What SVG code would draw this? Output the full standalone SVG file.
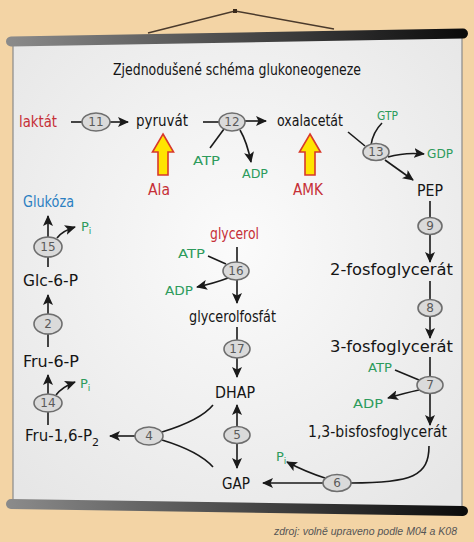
<svg xmlns="http://www.w3.org/2000/svg" width="474" height="542" viewBox="0 0 474 542">
<defs>
<radialGradient id="scr" cx="0.5" cy="0.45" r="0.7">
<stop offset="0" stop-color="#fbfbfb"/><stop offset="1" stop-color="#e6e6e6"/>
</radialGradient>
<linearGradient id="rod" x1="0" y1="0" x2="1" y2="0">
<stop offset="0" stop-color="#8a8a8a"/><stop offset="0.5" stop-color="#4a4a4a"/><stop offset="1" stop-color="#0c0c0c"/>
</linearGradient>
<marker id="ah" markerUnits="userSpaceOnUse" markerWidth="12" markerHeight="10" refX="10" refY="5" orient="auto">
<path d="M0,0 L11,5 L0,10 L2.5,5 Z" fill="#1a1a1a"/>
</marker>
<style>
.t{font-family:"DejaVu Sans","Liberation Sans",sans-serif;font-size:15px;fill:#151515}
.r{fill:#c62f37}
.g{font-family:"DejaVu Sans","Liberation Sans",sans-serif;font-size:13px;fill:#2d9b5c}
.b{fill:#2b7fc2}
.n{font-family:"DejaVu Sans","Liberation Sans",sans-serif;font-size:12px;fill:#5a5a5a;text-anchor:middle}
.e{fill:#dadada;stroke:#6e6e6e;stroke-width:1.6}
.l{fill:none;stroke:#1a1a1a;stroke-width:1.6}
.a{fill:none;stroke:#1a1a1a;stroke-width:1.6;marker-end:url(#ah)}
.y{fill:#ffe400;stroke:#d8392b;stroke-width:1.6;stroke-linejoin:miter}
</style>
</defs>
<rect width="474" height="542" fill="#f3d4a5"/>
<!-- screen -->
<polygon points="13,40 462,32 462,508 13,502" fill="url(#scr)" stroke="#8a8a8a" stroke-width="1.2"/>
<!-- hanger -->
<polyline points="148,33 235,11 334,29" fill="none" stroke="#4a3a2c" stroke-width="1.5"/>
<rect x="233" y="9" width="4" height="4" fill="#3a2a1c"/>
<!-- rods -->
<line x1="11" y1="41.5" x2="463" y2="33.5" stroke="url(#rod)" stroke-width="10" stroke-linecap="round"/>
<line x1="11" y1="504" x2="463" y2="511" stroke="url(#rod)" stroke-width="10" stroke-linecap="round"/>
<text x="113" y="75" class="t" textLength="248" lengthAdjust="spacingAndGlyphs">Zjednodušené schéma glukoneogeneze</text>

<g id="connectors">
<line class="l" x1="71" y1="122" x2="82" y2="122"/>
<line class="a" x1="110" y1="122" x2="128" y2="122"/>
<line class="l" x1="203" y1="122" x2="219" y2="122"/>
<line class="a" x1="245" y1="121" x2="266" y2="121"/>
<line class="l" x1="224" y1="129" x2="210" y2="148"/>
<path class="a" d="M240,130 Q247,142 251,162"/>
<line class="l" x1="348" y1="132" x2="365" y2="146"/>
<path class="l" d="M371,145 Q373,132 382,123"/>
<path class="a" d="M388,157 Q405,152 424,154"/>
<line class="a" x1="385" y1="160" x2="413" y2="180"/>
<line class="l" x1="430" y1="201" x2="430" y2="218"/>
<line class="a" x1="430" y1="234" x2="430" y2="262"/>
<line class="l" x1="430" y1="281" x2="430" y2="300"/>
<line class="a" x1="430" y1="316" x2="430" y2="338"/>
<line class="l" x1="430" y1="357" x2="430" y2="377"/>
<line class="a" x1="430" y1="393.5" x2="430" y2="425"/>
<line class="l" x1="395" y1="370" x2="419" y2="380"/>
<path class="a" d="M419,390 Q405,393 388,398"/>
<path class="l" d="M429,446 C429,476 412,483 351,483"/>
<line class="a" x1="323" y1="483" x2="263" y2="483"/>
<path class="a" d="M325,478 Q306,472 287,462"/>
<line class="a" x1="237" y1="426.5" x2="237" y2="405"/>
<line class="a" x1="237" y1="443.5" x2="237" y2="468"/>
<line class="a" x1="135" y1="436" x2="110" y2="436"/>
<path class="l" d="M162,432 C185,425 204,416 213,405"/>
<path class="l" d="M162,440 C185,447 204,457 213,467"/>
<line class="l" x1="48" y1="412" x2="48" y2="425"/>
<line class="a" x1="48" y1="394" x2="48" y2="375"/>
<path class="a" d="M56,395 Q62,387 75,382"/>
<line class="l" x1="48" y1="334" x2="48" y2="347"/>
<line class="a" x1="48" y1="314" x2="48" y2="295"/>
<line class="l" x1="48" y1="257" x2="48" y2="267"/>
<line class="a" x1="48" y1="237" x2="48" y2="216"/>
<path class="a" d="M57,238 Q62,231 75,227"/>
<line class="l" x1="237" y1="247" x2="237" y2="262"/>
<line class="a" x1="237" y1="280" x2="237" y2="303"/>
<line class="l" x1="208" y1="256" x2="226" y2="264"/>
<path class="a" d="M228,278 Q215,283 197,287"/>
<line class="l" x1="237" y1="327" x2="237" y2="340"/>
<line class="a" x1="237" y1="358" x2="237" y2="377"/>
</g>

<g id="n-laktat"><text x="19" y="127" class="t r" textLength="38" lengthAdjust="spacingAndGlyphs">laktát</text></g>
<g id="n-pyruvat"><text x="136" y="126" class="t" textLength="52" lengthAdjust="spacingAndGlyphs">pyruvát</text></g>
<g id="n-oxalacetat"><text x="277" y="126" class="t" textLength="66" lengthAdjust="spacingAndGlyphs">oxalacetát</text></g>
<g id="n-pep"><text x="417" y="196" class="t" textLength="26" lengthAdjust="spacingAndGlyphs">PEP</text></g>
<g id="n-2pg"><text x="330" y="275" class="t" textLength="123" lengthAdjust="spacingAndGlyphs">2-fosfoglycerát</text></g>
<g id="n-3pg"><text x="330" y="352" class="t" textLength="123" lengthAdjust="spacingAndGlyphs">3-fosfoglycerát</text></g>
<g id="n-13bpg"><text x="308" y="437" class="t" textLength="139" lengthAdjust="spacingAndGlyphs">1,3-bisfosfoglycerát</text></g>
<g id="n-gap"><text x="222" y="489" class="t" textLength="28" lengthAdjust="spacingAndGlyphs">GAP</text></g>
<g id="n-dhap"><text x="215" y="398" class="t" textLength="40" lengthAdjust="spacingAndGlyphs">DHAP</text></g>
<g id="n-glycerol"><text x="210" y="239" class="t r" textLength="49" lengthAdjust="spacingAndGlyphs">glycerol</text></g>
<g id="n-glycerolfosfat"><text x="189" y="322" class="t" textLength="87" lengthAdjust="spacingAndGlyphs">glycerolfosfát</text></g>
<g id="n-fru16p2"><text x="25" y="441" class="t"><tspan textLength="67" lengthAdjust="spacingAndGlyphs">Fru-1,6-P</tspan><tspan dy="5" font-size="11">2</tspan></text></g>
<g id="n-fru6p"><text x="23" y="367" class="t" textLength="56" lengthAdjust="spacingAndGlyphs">Fru-6-P</text></g>
<g id="n-glc6p"><text x="23" y="286" class="t" textLength="55" lengthAdjust="spacingAndGlyphs">Glc-6-P</text></g>
<g id="n-glukoza"><text x="23" y="207" class="t b" textLength="51" lengthAdjust="spacingAndGlyphs">Glukóza</text></g>

<g id="n-ala">
<polygon class="y" points="163,134 173.5,152 168,152 168,175 158,175 158,152 152.5,152"/>
<text x="148" y="195" class="t r" textLength="22" lengthAdjust="spacingAndGlyphs">Ala</text>
</g>
<g id="n-amk">
<polygon class="y" points="310,134 320.5,152 315,152 315,175 305,175 305,152 299.5,152"/>
<text x="293" y="195" class="t r" textLength="30" lengthAdjust="spacingAndGlyphs">AMK</text>
</g>

<g id="cofactors">
<text x="193" y="165" class="g" textLength="27" lengthAdjust="spacingAndGlyphs">ATP</text>
<text x="242" y="178" class="g" textLength="26" lengthAdjust="spacingAndGlyphs">ADP</text>
<text x="377" y="120" class="g" textLength="21" lengthAdjust="spacingAndGlyphs">GTP</text>
<text x="427" y="158" class="g" textLength="26" lengthAdjust="spacingAndGlyphs">GDP</text>
<text x="368" y="372" class="g" textLength="24" lengthAdjust="spacingAndGlyphs">ATP</text>
<text x="353" y="408" class="g" textLength="30" lengthAdjust="spacingAndGlyphs">ADP</text>
<text x="178" y="258" class="g" textLength="27" lengthAdjust="spacingAndGlyphs">ATP</text>
<text x="165" y="295" class="g" textLength="28" lengthAdjust="spacingAndGlyphs">ADP</text>
<text x="276" y="461" class="g">P<tspan dy="3" font-size="9">i</tspan></text>
<text x="80" y="388" class="g">P<tspan dy="3" font-size="9">i</tspan></text>
<text x="81" y="231" class="g">P<tspan dy="3" font-size="9">i</tspan></text>
</g>

<g id="e11"><ellipse class="e" cx="96" cy="122" rx="14" ry="9"/><text class="n" x="96" y="126">11</text></g>
<g id="e12"><ellipse class="e" cx="232" cy="122" rx="13" ry="9"/><text class="n" x="232" y="126">12</text></g>
<g id="e13"><ellipse class="e" cx="376" cy="152" rx="13" ry="8.5"/><text class="n" x="376" y="156">13</text></g>
<g id="e9"><ellipse class="e" cx="430" cy="226" rx="12" ry="8.5"/><text class="n" x="430" y="230">9</text></g>
<g id="e8"><ellipse class="e" cx="430" cy="308" rx="12" ry="8.5"/><text class="n" x="430" y="312">8</text></g>
<g id="e7"><ellipse class="e" cx="430" cy="385" rx="13" ry="8.5"/><text class="n" x="430" y="389">7</text></g>
<g id="e6"><ellipse class="e" cx="337" cy="483" rx="14" ry="8.5"/><text class="n" x="337" y="487">6</text></g>
<g id="e5"><ellipse class="e" cx="237" cy="435" rx="13" ry="8.5"/><text class="n" x="237" y="439">5</text></g>
<g id="e4"><ellipse class="e" cx="149" cy="436" rx="14" ry="9"/><text class="n" x="149" y="440">4</text></g>
<g id="e14"><ellipse class="e" cx="48" cy="403" rx="14" ry="9"/><text class="n" x="48" y="407">14</text></g>
<g id="e2"><ellipse class="e" cx="48" cy="324" rx="14" ry="10"/><text class="n" x="48" y="328">2</text></g>
<g id="e15"><ellipse class="e" cx="48" cy="247" rx="14" ry="10"/><text class="n" x="48" y="251">15</text></g>
<g id="e16"><ellipse class="e" cx="236" cy="271" rx="13" ry="9"/><text class="n" x="236" y="275">16</text></g>
<g id="e17"><ellipse class="e" cx="237" cy="349" rx="13" ry="9"/><text class="n" x="237" y="353">17</text></g>

<text x="274" y="535" font-family="Liberation Sans, sans-serif" font-style="italic" font-size="11" fill="#555" textLength="183" lengthAdjust="spacingAndGlyphs">zdroj: volně upraveno podle M04 a K08</text>
</svg>
